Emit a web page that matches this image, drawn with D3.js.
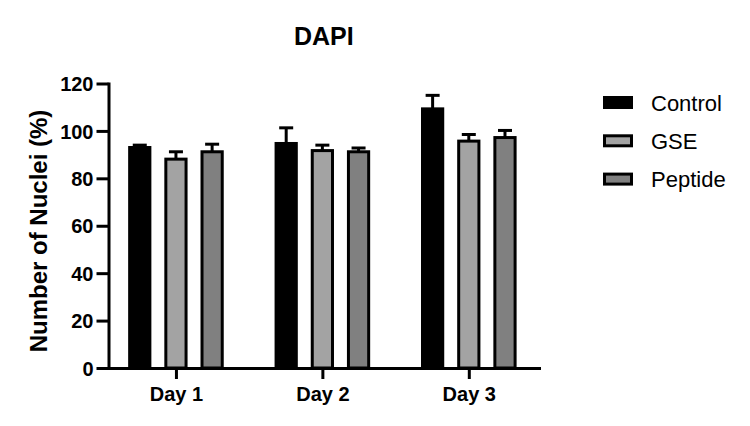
<!DOCTYPE html>
<html>
<head>
<meta charset="utf-8">
<script src="https://cdn.jsdelivr.net/npm/d3@7"></script>
<style>
  body { margin: 0; background: #fff; }
  svg { display: block; font-family: Arial, "Liberation Sans", sans-serif; }
</style>
</head>
<body>
<div id="chart"></div>
<script>
// chart data
const days = ["Day 1", "Day 2", "Day 3"];
const groups = ["Control", "GSE", "Peptide"];
const fills = ["#000000", "#a3a3a3", "#808080"];
const yTicks = [0, 20, 40, 60, 80, 100, 120];
// mean per group, one array per day
const means = [
    [93.0, 88.1, 91.2],
    [94.7, 91.7, 91.2],
    [109.3, 95.7, 97.2]
];
// upper error (SD) per group
const errs = [
    [1.0, 3.1, 3.2],
    [6.6, 2.3, 1.6],
    [5.7, 2.8, 3.0]
];

let svgWidth = 750;
let svgHeight = 426;
let plotLeft = 108.5, plotRight = 539, plotTop = 83.5, plotBottom = 368;
let stroke = 3;

let svg = d3.select("#chart")
    .append("svg")
    .attr("width", svgWidth)
    .attr("height", svgHeight);

let x = d3.scalePoint()
    .domain(days)
    .range([plotLeft, plotRight])
    .padding(0.47)
    .align(0.49);

// bars inside one day
let xInner = d3.scaleBand()
    .domain(groups)
    .range([-60.75, 60.75])
    .padding(0.358);

let y = d3.scaleLinear()
    .domain([0, 120])
    .range([plotBottom, plotTop]);

// flatten to one row per bar
let rows = [];
days.forEach((d, i) => {
    groups.forEach((g, j) => {
        rows.push({ day: d, group: g, v: means[i][j], e: errs[i][j], fill: fills[j] });
    });
});
let cx = d => x(d.day) + xInner(d.group) + xInner.bandwidth() / 2;

// error bars first so bars sit over the lower half
let eb = svg.append("g").attr("stroke", "#000").attr("stroke-width", stroke);
eb.selectAll("line.stem")
    .data(rows)
    .enter()
    .append("line")
    .attr("class", "stem")
    .attr("x1", cx)
    .attr("x2", cx)
    .attr("y1", d => y(d.v))
    .attr("y2", d => y(d.v + d.e));
eb.selectAll("line.cap")
    .data(rows)
    .enter()
    .append("line")
    .attr("class", "cap")
    .attr("x1", d => cx(d) - 7)
    .attr("x2", d => cx(d) + 7)
    .attr("y1", d => y(d.v + d.e))
    .attr("y2", d => y(d.v + d.e));

svg.append("g")
    .selectAll("rect")
    .data(rows)
    .enter()
    .append("rect")
    .attr("x", d => x(d.day) + xInner(d.group) + stroke / 2)
    .attr("y", d => y(d.v))
    .attr("width", xInner.bandwidth() - stroke)
    .attr("height", d => y(0) - y(d.v))
    .attr("fill", d => d.fill)
    .attr("stroke", "#000")
    .attr("stroke-width", stroke);

// axes
let yAxis = d3.axisLeft(y).tickValues(yTicks).tickSize(12).tickSizeOuter(0).tickPadding(3);
let gy = svg.append("g")
    .attr("transform", `translate(${plotLeft}, 0)`)
    .call(yAxis);

let xAxis = d3.axisBottom(x).tickSize(11).tickSizeOuter(0).tickPadding(8);
let gx = svg.append("g")
    .attr("transform", `translate(0, ${plotBottom})`)
    .call(xAxis);

[gx, gy].forEach(g => {
    g.select(".domain").attr("stroke-width", stroke).attr("stroke-linecap", "square");
    g.selectAll(".tick line").attr("stroke-width", stroke);
    g.selectAll(".tick text")
        .attr("fill", "#000")
        .style("font-size", "20px")
        .style("font-weight", "bold")
        .style("font-family", "Arial, 'Liberation Sans', sans-serif");
});
gy.selectAll(".tick text").attr("dy", "0.36em");

// title
svg.append("text")
    .attr("x", (plotLeft + plotRight) / 2)
    .attr("y", 45)
    .attr("text-anchor", "middle")
    .style("font-size", "25px")
    .style("font-weight", "bold")
    .text("DAPI");

// y axis label
svg.append("text")
    .attr("transform", "translate(47, 231) rotate(-90)")
    .attr("text-anchor", "middle")
    .style("font-size", "24px")
    .style("font-weight", "bold")
    .text("Number of Nuclei (%)");

// legend
let legend = svg.append("g")
    .selectAll("g")
    .data(groups)
    .enter()
    .append("g")
    .attr("transform", (d, i) => `translate(603, ${102.5 + i * 38.3})`);
legend.append("rect")
    .attr("x", 1.5)
    .attr("y", -5)
    .attr("width", 27)
    .attr("height", 10)
    .attr("fill", (d, i) => fills[i])
    .attr("stroke", "#000")
    .attr("stroke-width", stroke);
legend.append("text")
    .attr("x", 48)
    .attr("y", 8)
    .style("font-size", "22px")
    .text(d => d);
</script>
</body>
</html>
